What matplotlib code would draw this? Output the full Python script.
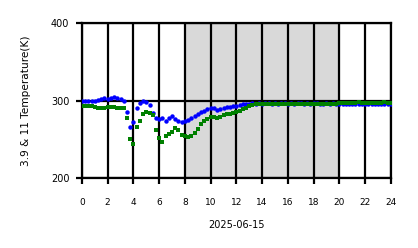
import matplotlib
matplotlib.use("Agg")
import matplotlib.pyplot as plt
import numpy as np

# sample times (hours), one every 15 minutes
hours = np.arange(0, 24.01, 0.25)

# 3.9 um brightness temperature (K)
temp_39 = [
    299, 299, 299, 300, 300, 301, 302, 303, 302, 303, 305, 303,
    302, 300, 285, 266, 272, 290, 297, 299, 298, 294, 284, 277,
    276, 277, 274, 278, 280, 276, 273, 272, 273, 275, 277, 280,
    283, 285, 287, 289, 291, 290, 288, 289, 291, 292, 292, 293,
    293, 294, 295, 296, 296, 297, 296, 297, 296, 297, 297, 296,
    297, 296, 297, 297, 296, 297, 296, 297, 297, 296, 297, 296,
    297, 297, 296, 296, 297, 296, 297, 296, 296, 295, 295, 295,
    296, 295, 295, 295, 295, 295, 295, 296, 295, 295, 295, 295,
    295,
]

# 11 um brightness temperature (K)
temp_11 = [
    293, 293, 293, 293, 292, 291, 290, 290, 292, 292, 292, 291,
    291, 290, 277, 250, 244, 266, 274, 283, 285, 284, 282, 262,
    252, 247, 254, 257, 259, 264, 262, 255, 254, 253, 254, 258,
    263, 270, 274, 276, 279, 279, 278, 279, 281, 283, 283, 284,
    285, 287, 289, 291, 293, 294, 295, 296, 296, 296, 296, 296,
    296, 296, 296, 296, 296, 296, 296, 296, 296, 296, 296, 296,
    296, 296, 296, 296, 296, 296, 296, 296, 297, 297, 297, 297,
    297, 297, 298, 297, 297, 297, 297, 297, 297, 297, 298, 297,
    297,
]

daytime = (8, 20)
date_label = "2025-06-15"

fig = plt.figure(figsize=(4.18, 2.48), dpi=100)
ax = fig.add_axes([0.196, 0.282, 0.739, 0.625])

ax.axvspan(*daytime, color="#d9d9d9", zorder=0)
ax.plot(hours, temp_39, "o", color="blue", ms=3.2, mew=0, zorder=3)
ax.plot(hours, temp_11, "s", color="green", ms=2.6, mew=0, zorder=4)

ax.set_xlim(0, 24)
ax.set_ylim(200, 400)
ax.set_xticks(np.arange(0, 25, 2))
ax.set_yticks([200, 300, 400])
ax.grid(True, color="black", lw=1.6, zorder=1.5)
for sp in ax.spines.values():
    sp.set_linewidth(1.6)
ax.tick_params(direction="out", length=4, width=1.6, labelsize=7, pad=5)
ax.tick_params(axis="x", labelsize=6.5, pad=10)

ax.set_xlabel(date_label, fontsize=7, labelpad=10)
ax.set_ylabel("3.9 & 11 Temperature(K)", fontsize=7.6, labelpad=14)

fig.savefig("out.png", dpi=100)
